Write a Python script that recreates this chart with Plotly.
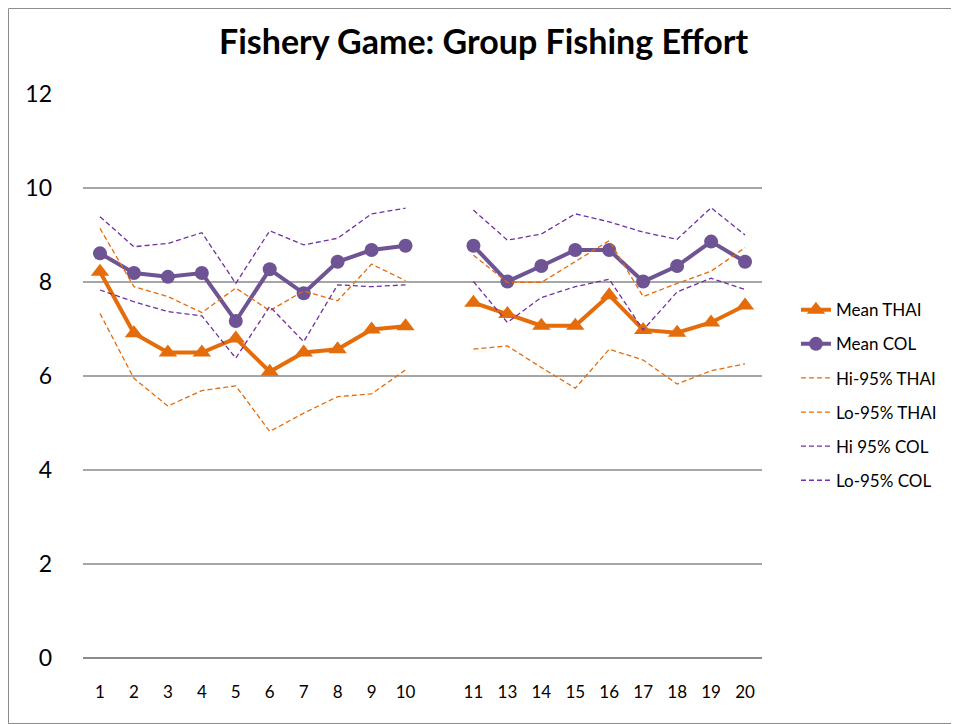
import plotly.graph_objects as go

# rounds; blank slot keeps the gap between 10 and 11 (no round 12)
rounds = ["1", "2", "3", "4", "5", "6", "7", "8", "9", "10", " ",
          "11", "13", "14", "15", "16", "17", "18", "19", "20"]

mean_thai = [8.22, 6.91, 6.50, 6.50, 6.80, 6.09, 6.50, 6.57, 6.99, 7.06, None,
             7.56, 7.32, 7.07, 7.07, 7.72, 6.98, 6.92, 7.14, 7.50]
mean_col = [8.61, 8.19, 8.11, 8.19, 7.17, 8.27, 7.76, 8.43, 8.68, 8.77, None,
            8.77, 8.01, 8.34, 8.68, 8.68, 8.01, 8.34, 8.86, 8.43]
hi_thai = [9.14, 7.90, 7.69, 7.35, 7.87, 7.39, 7.81, 7.60, 8.38, 8.03, None,
           8.57, 7.99, 7.99, 8.43, 8.88, 7.69, 7.97, 8.23, 8.73]
lo_thai = [7.33, 5.95, 5.36, 5.69, 5.79, 4.82, 5.21, 5.56, 5.62, 6.13, None,
           6.57, 6.64, 6.18, 5.74, 6.57, 6.34, 5.83, 6.11, 6.26]
hi_col = [9.39, 8.75, 8.82, 9.05, 7.97, 9.09, 8.79, 8.93, 9.45, 9.57, None,
          9.53, 8.89, 9.02, 9.45, 9.28, 9.06, 8.91, 9.58, 9.00]
lo_col = [7.83, 7.58, 7.37, 7.28, 6.38, 7.48, 6.73, 7.94, 7.90, 7.94, None,
          8.01, 7.14, 7.67, 7.90, 8.06, 6.98, 7.79, 8.08, 7.84]

orange = "#E46C0A"
purple = "#6E5494"
purple_dash = "#7030A0"
font = "Lato"
dash = "5px,3px"

fig = go.Figure()
fig.add_trace(go.Scatter(x=rounds, y=mean_thai, name="Mean THAI", mode="lines+markers",
                         line=dict(color=orange, width=4),
                         marker=dict(symbol="triangle-up", size=16, color=orange),
                         legendgroup="a"))
fig.add_trace(go.Scatter(x=rounds, y=mean_col, name="Mean COL", mode="lines+markers",
                         line=dict(color=purple, width=4),
                         marker=dict(symbol="circle", size=14, color=purple),
                         legendgroup="b"))
fig.add_trace(go.Scatter(x=rounds, y=hi_thai, name="Hi-95% THAI", mode="lines",
                         line=dict(color=orange, width=1.3, dash=dash), legendgroup="c"))
fig.add_trace(go.Scatter(x=rounds, y=lo_thai, name="Lo-95% THAI", mode="lines",
                         line=dict(color=orange, width=1.3, dash=dash), legendgroup="d"))
fig.add_trace(go.Scatter(x=rounds, y=hi_col, name="Hi 95% COL", mode="lines",
                         line=dict(color=purple_dash, width=1.3, dash=dash), legendgroup="e"))
fig.add_trace(go.Scatter(x=rounds, y=lo_col, name="Lo-95% COL", mode="lines",
                         line=dict(color=purple_dash, width=1.3, dash=dash), legendgroup="f"))

# page body adds 8px, so the figure is 8px smaller and margins are shifted
fig.update_layout(
    width=951, height=716,
    margin=dict(l=75, r=197, t=86, b=66),
    paper_bgcolor="white", plot_bgcolor="white",
    font=dict(family=font, color="black"),
    title=dict(text="<b>Fishery Game: Group Fishing Effort</b>",
               font=dict(family=font, size=34, color="black"),
               x=0.5, xanchor="center", y=0.9525, yanchor="middle"),
    showlegend=True,
    legend=dict(x=1.05, y=0.466, xanchor="left", yanchor="middle",
                font=dict(family=font, size=17, color="black"),
                tracegroupgap=9, bgcolor="rgba(0,0,0,0)"),
    shapes=[dict(type="rect", xref="paper", yref="paper",
                 x0=-0.1097, x1=1.2894, y0=-0.1161, y1=1.1516,
                 line=dict(color="#8C8C8C", width=1))],
)
fig.update_xaxes(type="category", categoryorder="array", categoryarray=rounds,
                 range=[-0.5, len(rounds) - 0.5],
                 showgrid=False, showline=False, zeroline=False, ticks="",
                 tickfont=dict(family=font, size=17, color="black"),
                 ticklabelstandoff=22)
fig.update_yaxes(range=[0, 12], dtick=2, showgrid=True, gridcolor="#A6A6A6", gridwidth=1.5,
                 zeroline=True, zerolinecolor="#8C8C8C", zerolinewidth=2,
                 showline=False, ticks="",
                 tickfont=dict(family=font, size=23, color="black"),
                 ticklabelstandoff=30)

fig.write_html("out.html")
